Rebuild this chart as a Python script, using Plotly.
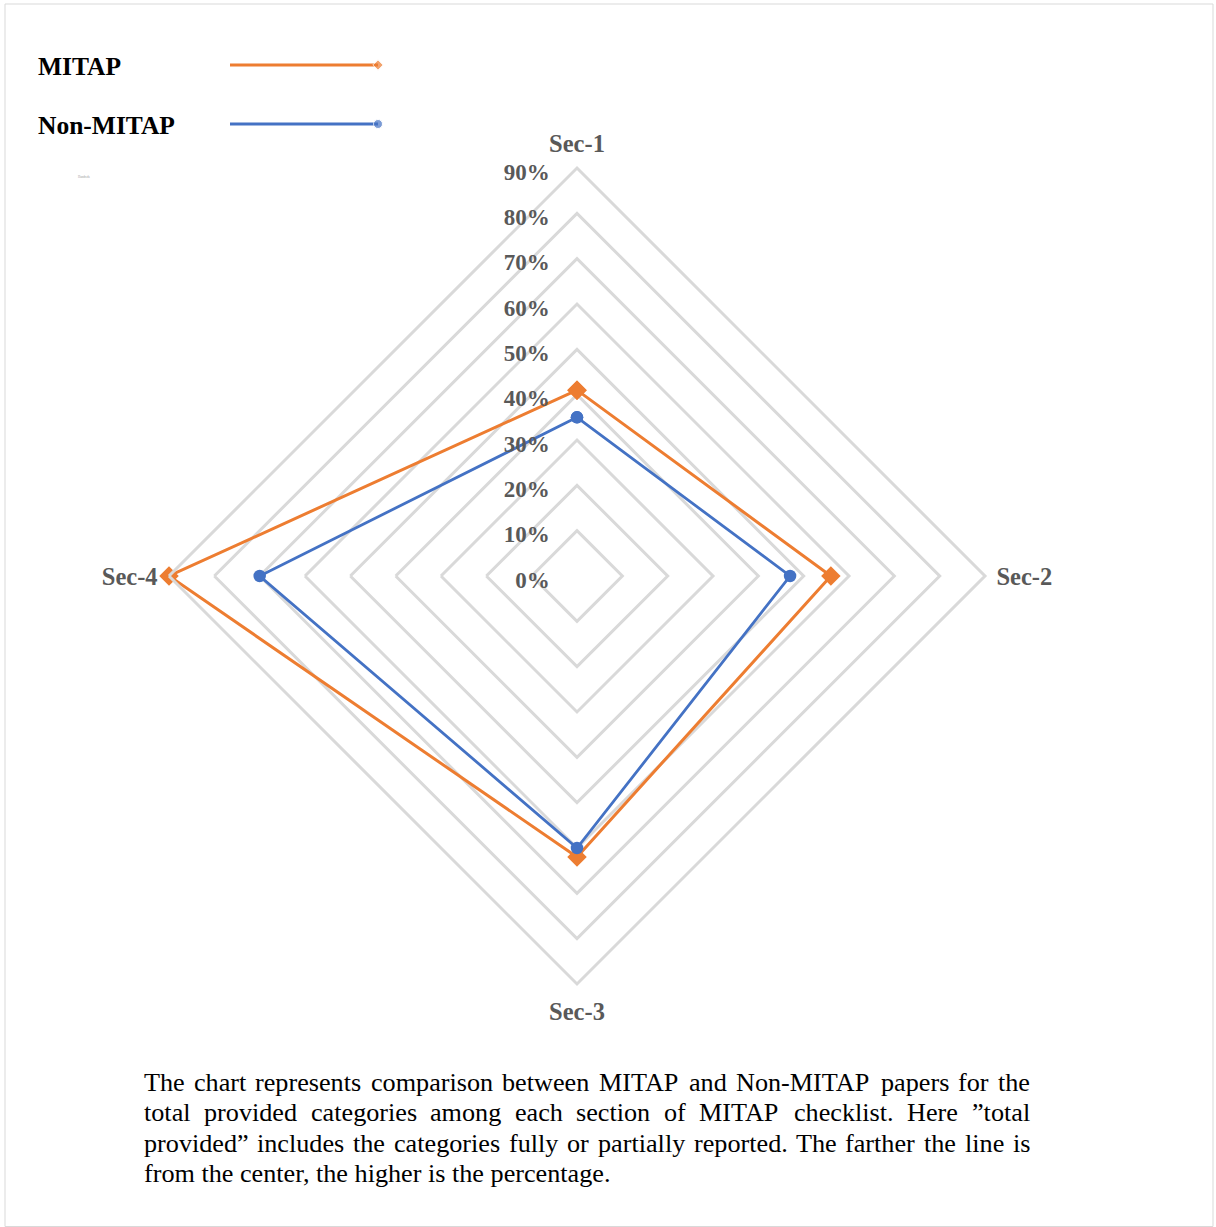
import plotly.graph_objects as go

# ---- data -------------------------------------------------------------
sections = ["Sec-1", "Sec-2", "Sec-3", "Sec-4"]
mitap = [0.41, 0.56, 0.62, 0.90]
non_mitap = [0.35, 0.47, 0.60, 0.70]
radial_ticks = [0.0, 0.1, 0.2, 0.3, 0.4, 0.5, 0.6, 0.7, 0.8, 0.9]
series_names = ["MITAP", "Non-MITAP"]

caption_lines = [
    "The chart represents comparison between MITAP and Non-MITAP papers for the",
    "total provided categories among each section of MITAP checklist. Here \u201dtotal",
    "provided\u201d includes the categories fully or partially reported. The farther the line is",
    "from the center, the higher is the percentage.",
]

# ---- styling ----------------------------------------------------------
W, H = 1216, 1227
ORANGE = "#ED7D31"
BLUE = "#4472C4"
GRID = "#D9D9D9"
LABEL = "#595959"
SERIF = "Liberation Serif"

CX, CY, R = 577, 576, 408  # polar centre (px from top-left) and outer radius

fig = go.Figure()

# closed polygons for the radar series
def closed(vals):
    return list(vals) + [vals[0]]

fig.add_trace(go.Scatterpolar(
    r=closed(mitap), theta=closed(sections), name=series_names[0],
    mode="lines+markers", line=dict(color=ORANGE, width=3),
    marker=dict(symbol="diamond", size=15, color=ORANGE),
    cliponaxis=False, showlegend=False,
))
fig.add_trace(go.Scatterpolar(
    r=closed(non_mitap), theta=closed(sections), name=series_names[1],
    mode="lines+markers", line=dict(color=BLUE, width=2.8),
    marker=dict(symbol="circle", size=12.5, color=BLUE),
    cliponaxis=False, showlegend=False,
))

# legend keys drawn on a hidden pixel-space overlay
legend_rows = [(series_names[0], 65, ORANGE, "diamond", 8),
               (series_names[1], 124, BLUE, "circle", 9)]
for name, yy, col, sym, msize in legend_rows:
    fig.add_trace(go.Scatter(
        x=[230, 378], y=[yy, yy], mode="lines+markers",
        line=dict(color=col, width=2.8),
        marker=dict(symbol=sym, size=[0, msize], color=col),
        xaxis="x", yaxis="y", showlegend=False, hoverinfo="skip",
    ))

annotations = []
for name, yy, col, sym, msize in legend_rows:
    annotations.append(dict(
        x=36, y=yy + 1, xref="x", yref="y", text=f"<b>{name}</b>",
        showarrow=False, xanchor="left", yanchor="middle",
        font=dict(family=SERIF, size=25.5, color="#000000"),
    ))
annotations.append(dict(
    x=84, y=177, xref="x", yref="y", text="Hundreds", showarrow=False,
    font=dict(family=SERIF, size=3, color="#9A9A9A"),
))

# justified caption: words placed using Times/Liberation Serif advance widths
TIMES = {
    " ": 250, "!": 333, ",": 250, "-": 333, ".": 250, "\u201d": 444, "\u201c": 444,
    "a": 444, "b": 500, "c": 444, "d": 500, "e": 444, "f": 333, "g": 500, "h": 500,
    "i": 278, "j": 278, "k": 500, "l": 278, "m": 778, "n": 500, "o": 500, "p": 500,
    "q": 500, "r": 333, "s": 389, "t": 278, "u": 500, "v": 500, "w": 722, "x": 500,
    "y": 500, "z": 444, "A": 722, "B": 667, "C": 667, "D": 722, "E": 611, "F": 556,
    "G": 722, "H": 722, "I": 333, "J": 389, "K": 722, "L": 611, "M": 889, "N": 722,
    "O": 722, "P": 556, "Q": 722, "R": 667, "S": 556, "T": 611, "U": 722, "V": 722,
    "W": 944, "X": 722, "Y": 722, "Z": 611,
}
CAP_SIZE = 26.2
CAP_LEFT, CAP_RIGHT = 143, 1029
CAP_TOP, CAP_STEP = 1082, 30.5


def text_width(s):
    return sum(TIMES.get(ch, 500) for ch in s) / 1000.0 * CAP_SIZE


for i, line in enumerate(caption_lines):
    yy = CAP_TOP + i * CAP_STEP
    last = i == len(caption_lines) - 1
    if last:
        annotations.append(dict(
            x=CAP_LEFT, y=yy, xref="x", yref="y", text=line, showarrow=False,
            xanchor="left", yanchor="middle", xshift=-1,
            font=dict(family=SERIF, size=CAP_SIZE, color="#000000"),
        ))
        continue
    words = line.split(" ")
    widths = [text_width(w) for w in words]
    gap = (CAP_RIGHT - CAP_LEFT - sum(widths)) / (len(words) - 1)
    xpos = CAP_LEFT
    for w, wd in zip(words, widths):
        annotations.append(dict(
            x=xpos, y=yy, xref="x", yref="y", text=w, showarrow=False,
            xanchor="left", yanchor="middle", xshift=-1,
            font=dict(family=SERIF, size=CAP_SIZE, color="#000000"),
        ))
        xpos += wd + gap

fig.update_layout(
    width=W, height=H,
    margin=dict(l=0, r=0, t=0, b=0),
    paper_bgcolor="white", plot_bgcolor="rgba(0,0,0,0)",
    showlegend=False,
    xaxis=dict(range=[0, W], domain=[0, 1], visible=False, fixedrange=True),
    yaxis=dict(range=[H, 0], domain=[0, 1], visible=False, fixedrange=True),
    polar=dict(
        domain=dict(x=[(CX - R) / W, (CX + R) / W],
                    y=[(H - CY - R) / H, (H - CY + R) / H]),
        bgcolor="rgba(0,0,0,0)",
        gridshape="linear",
        radialaxis=dict(
            range=[0, 0.9], tickvals=radial_ticks, tickformat=".0%",
            angle=90, side="counterclockwise", showline=False,
            ticks="outside", ticklen=6, tickcolor="rgba(0,0,0,0)",
            gridcolor=GRID, gridwidth=3,
            tickfont=dict(family=SERIF, size=23, color=LABEL, weight="bold"),
        ),
        angularaxis=dict(
            rotation=90, direction="clockwise", categoryorder="array",
            categoryarray=sections, showgrid=False, showline=True,
            linecolor=GRID, linewidth=3,
            ticks="outside", ticklen=5, tickcolor="rgba(0,0,0,0)",
            tickfont=dict(family=SERIF, size=24.5, color=LABEL, weight="bold"),
        ),
    ),
    annotations=annotations,
    shapes=[dict(type="rect", xref="paper", yref="paper",
                 x0=5 / W, x1=1213 / W, y0=0.5 / H, y1=1 - 4 / H,
                 line=dict(color=GRID, width=1))],
)

fig.write_html("out.html")
